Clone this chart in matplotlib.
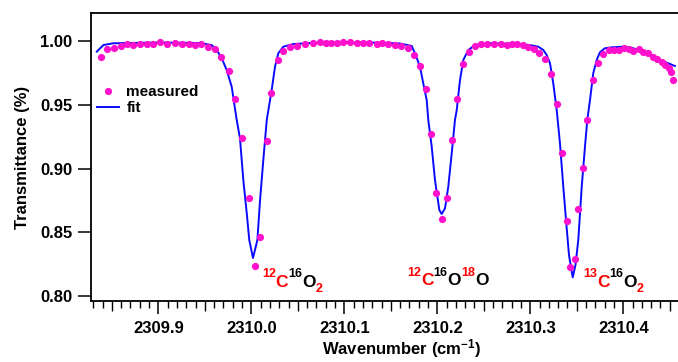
import matplotlib
matplotlib.use('Agg')
import matplotlib.pyplot as plt
import matplotlib.transforms as mtransforms

plt.rcParams['font.family'] = ['Liberation Sans', 'DejaVu Sans']
plt.rcParams['font.weight'] = 'bold'
plt.rcParams['mathtext.fontset'] = 'custom'
plt.rcParams['mathtext.bf'] = 'Liberation Sans:bold'
plt.rcParams['mathtext.rm'] = 'Liberation Sans:bold'
plt.rcParams['mathtext.default'] = 'bf'

# measured spectrum
measured_x = [
    2309.8381, 2309.8452, 2309.8524, 2309.8596, 2309.8667, 2309.8731, 2309.8803, 2309.8875,
    2309.8946, 2309.9018, 2309.9097, 2309.9176, 2309.9255, 2309.9327, 2309.9391, 2309.9462,
    2309.9534, 2309.9606, 2309.9677, 2309.9757, 2309.9828, 2309.9903, 2309.9975, 2310.0040,
    2310.0097, 2310.0166, 2310.0215, 2310.0287, 2310.0344, 2310.0416, 2310.0488, 2310.0581,
    2310.0667, 2310.0739, 2310.0803, 2310.0860, 2310.0925, 2310.0989, 2310.1061, 2310.1133,
    2310.1204, 2310.1269, 2310.1348, 2310.1405, 2310.1470, 2310.1542, 2310.1613, 2310.1685,
    2310.1749, 2310.1814, 2310.1878, 2310.1929, 2310.1989, 2310.2047, 2310.2108, 2310.2161,
    2310.2215, 2310.2273, 2310.2338, 2310.2402, 2310.2467, 2310.2538, 2310.2610, 2310.2682,
    2310.2746, 2310.2803, 2310.2860, 2310.2918, 2310.2975, 2310.3040, 2310.3097, 2310.3161,
    2310.3219, 2310.3284, 2310.3341, 2310.3391, 2310.3427, 2310.3477, 2310.3513, 2310.3563,
    2310.3613, 2310.3671, 2310.3728, 2310.3785, 2310.3849, 2310.3900, 2310.3951, 2310.4008,
    2310.4058, 2310.4108, 2310.4166, 2310.4215, 2310.4266, 2310.4316, 2310.4366, 2310.4416,
    2310.4452, 2310.4488, 2310.4510, 2310.4538]
measured_y = [
    0.9876, 0.9943, 0.9951, 0.9962, 0.9978, 0.9975, 0.9983, 0.9980,
    0.9983, 0.9994, 0.9983, 0.9991, 0.9983, 0.9978, 0.9972, 0.9980,
    0.9957, 0.9941, 0.9881, 0.9770, 0.9548, 0.9241, 0.8772, 0.8237,
    0.8461, 0.9218, 0.9597, 0.9855, 0.9928, 0.9957, 0.9967, 0.9978,
    0.9986, 0.9994, 0.9991, 0.9991, 0.9991, 0.9994, 0.9994, 0.9986,
    0.9991, 0.9988, 0.9980, 0.9986, 0.9983, 0.9975, 0.9965, 0.9947,
    0.9894, 0.9807, 0.9624, 0.9275, 0.8807, 0.8605, 0.8770, 0.9228,
    0.9546, 0.9821, 0.9915, 0.9965, 0.9980, 0.9983, 0.9983, 0.9983,
    0.9975, 0.9978, 0.9980, 0.9975, 0.9959, 0.9941, 0.9912, 0.9860,
    0.9747, 0.9511, 0.9123, 0.8589, 0.8225, 0.8288, 0.8686, 0.9003,
    0.9383, 0.9697, 0.9833, 0.9899, 0.9933, 0.9936, 0.9936, 0.9951,
    0.9939, 0.9928, 0.9939, 0.9917, 0.9907, 0.9881, 0.9860, 0.9839,
    0.9818, 0.9792, 0.9760, 0.9697]

# fitted curve
fit_x = [
    2309.8338, 2309.8409, 2309.8516, 2309.9018, 2309.9448, 2309.9574, 2309.9628, 2309.9682,
    2309.9735, 2309.9789, 2309.9843, 2309.9878, 2309.9914, 2309.9951, 2309.9978, 2310.0018,
    2310.0065, 2310.0094, 2310.0129, 2310.0166, 2310.0219, 2310.0255, 2310.0290, 2310.0344,
    2310.0452, 2310.0739, 2310.1384, 2310.1599, 2310.1725, 2310.1760, 2310.1814, 2310.1849,
    2310.1886, 2310.1903, 2310.1940, 2310.1975, 2310.2022, 2310.2047, 2310.2083, 2310.2118,
    2310.2155, 2310.2190, 2310.2209, 2310.2244, 2310.2280, 2310.2333, 2310.2405, 2310.2567,
    2310.2889, 2310.2995, 2310.3086, 2310.3140, 2310.3176, 2310.3212, 2310.3247, 2310.3284,
    2310.3319, 2310.3355, 2310.3384, 2310.3416, 2310.3456, 2310.3486, 2310.3516, 2310.3553,
    2310.3588, 2310.3613, 2310.3642, 2310.3677, 2310.3714, 2310.3749, 2310.3803, 2310.3875,
    2310.4000, 2310.4108, 2310.4252, 2310.4395, 2310.4484, 2310.4556]
fit_y = [
    0.9920, 0.9972, 0.9986, 0.9992, 0.9988, 0.9972, 0.9933, 0.9868,
    0.9776, 0.9645, 0.9383, 0.9239, 0.8911, 0.8649, 0.8439, 0.8298,
    0.8439, 0.8754, 0.9068, 0.9383, 0.9619, 0.9802, 0.9907, 0.9959,
    0.9980, 0.9992, 0.9991, 0.9984, 0.9965, 0.9907, 0.9802, 0.9671,
    0.9540, 0.9383, 0.9173, 0.8911, 0.8675, 0.8644, 0.8689, 0.8858,
    0.9121, 0.9383, 0.9461, 0.9697, 0.9855, 0.9933, 0.9972, 0.9986,
    0.9980, 0.9972, 0.9959, 0.9933, 0.9894, 0.9829, 0.9671, 0.9461,
    0.9200, 0.8858, 0.8597, 0.8322, 0.8146, 0.8243, 0.8439, 0.8858,
    0.9173, 0.9383, 0.9540, 0.9750, 0.9855, 0.9915, 0.9947, 0.9954,
    0.9959, 0.9947, 0.9907, 0.9855, 0.9829, 0.9807]

x_major = [2309.9, 2310.0, 2310.1, 2310.2, 2310.3, 2310.4]
y_major = [0.80, 0.85, 0.90, 0.95, 1.00]

# isotopologue labels: anchor and (text, colour, kind) pieces
label_x = [2310.0113, 2310.1675, 2310.3567]
label_y = [0.8072, 0.8082, 0.8072]
label_parts = [
    [('12', 'red', 'sup'), ('C', 'red', 'n'), ('16', 'black', 'sup'), ('O', 'black', 'n'), ('2', 'red', 'sub')],
    [('12', 'red', 'sup'), ('C', 'red', 'n'), ('16', 'black', 'sup'), ('O', 'black', 'n'),
     ('18', 'red', 'sup'), ('O', 'black', 'n')],
    [('13', 'red', 'sup'), ('C', 'red', 'n'), ('16', 'black', 'sup'), ('O', 'black', 'n'), ('2', 'red', 'sub')],
]


def chem_label(ax, x, y, parts):
    """
    Write a formula piece by piece so each piece can have its own colour.
    """
    fig = ax.figure
    renderer = fig.canvas.get_renderer()
    dx = 0.0
    for s, color, kind in parts:
        size = 12.5 if kind == 'n' else 9
        dy = {'n': 0.0, 'sup': 7.0, 'sub': -3.5}[kind]
        tr = mtransforms.offset_copy(ax.transData, fig=fig, x=dx, y=dy, units='points')
        t = ax.text(x, y, s, color=color, fontsize=size, fontweight='bold',
                    transform=tr, ha='left', va='baseline')
        dx += t.get_window_extent(renderer).width * 72.0 / fig.dpi


fig = plt.figure(figsize=(6.78, 3.62), dpi=100)
# axis runs past the right edge of the picture, as in the original
ax = fig.add_axes([91 / 678, 61 / 362, 621 / 678, 288 / 362])

ax.plot(fit_x, fit_y, color='#0a0aff', lw=1.4, label='fit', zorder=2)
ax.plot(measured_x, measured_y, 'o', color='#ff10cc', ms=5.2, mec='none', label='measured', zorder=3)

ax.set_xlim(2309.8276, 2310.4954)
ax.set_ylim(0.796, 1.0224)

ax.set_xticks(x_major)
ax.set_xticklabels(['%.1f' % v for v in x_major])
ax.set_xticks([2309.83 + 0.01 * i for i in range(67) if (i + 3) % 5 != 0], minor=True)
ax.set_yticks(y_major)
ax.set_yticklabels(['%.2f' % v for v in y_major])

ax.tick_params(axis='x', which='major', direction='out', length=9.5, width=1.1, pad=5, labelsize=12)
ax.tick_params(axis='x', which='minor', direction='out', length=5, width=1.0)
ax.tick_params(axis='y', which='major', direction='out', length=9.5, width=1.1, pad=4, labelsize=12)

# medium ticks at the half-steps
sec = ax.secondary_xaxis('bottom')
sec.set_xticks([2309.85, 2309.95, 2310.05, 2310.15, 2310.25, 2310.35, 2310.45])
sec.tick_params(direction='out', length=7.2, width=1.0, labelbottom=False)
sec.spines['bottom'].set_visible(False)

for side in ['left', 'bottom', 'top']:
    ax.spines[side].set_linewidth(1.3)
ax.spines['right'].set_visible(False)

ax.set_xlabel('Wavenumber (cm$^{-1}$)', fontsize=12, fontweight='bold', labelpad=1)
ax.set_ylabel('Transmittance (%)', fontsize=12, fontweight='bold', labelpad=7)

handles, labels = ax.get_legend_handles_labels()
ax.legend(handles[::-1], labels[::-1], loc='upper left', bbox_to_anchor=(0.009, 0.75),
          frameon=False, handlelength=1.45, handletextpad=0.5,
          labelspacing=0.15, borderpad=0, borderaxespad=0, numpoints=1,
          prop={'weight': 'bold', 'size': 11})

for lx, ly, parts in zip(label_x, label_y, label_parts):
    chem_label(ax, lx, ly, parts)

fig.savefig('out.png', dpi=100)
